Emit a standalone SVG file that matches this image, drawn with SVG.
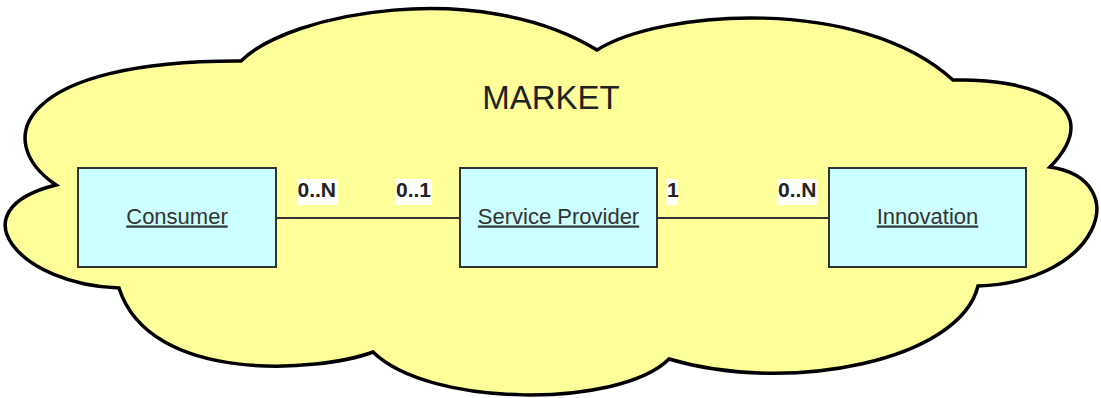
<svg xmlns="http://www.w3.org/2000/svg" width="1101" height="398" viewBox="0 0 1101 398">
  <style>
    .cloud { fill: #ffff99; stroke: #000000; stroke-width: 3.5; stroke-linejoin: miter; }
    .box { fill: #ccffff; stroke: #333333; stroke-width: 2; }
    .title { font-family: "Liberation Sans", Arial, sans-serif; font-size: 33px; fill: #222222; text-anchor: middle; }
    .name { font-family: "Liberation Sans", Arial, sans-serif; font-size: 22px; fill: #333333; text-anchor: middle; text-decoration: underline; }
    .link { stroke: #333333; stroke-width: 1.8; fill: none; }
    .mult-bg { fill: #ffffff; }
    .mult { font-family: "Liberation Sans", Arial, sans-serif; font-size: 21px; font-weight: bold; fill: #222222; }
  </style>

  <!-- Market cloud container -->
  <g id="market">
    <path class="cloud" d="M 241,61
      C 290,12 480,-22 597,50
      C 660,10 860,-5 953,80
      C 1030,78 1110,105 1050,167
      C 1135,180 1100,282 978,286
      C 960,360 790,395 669,359
      C 620,408 430,408 373,352
      C 320,372 150,385 119,288
      C 20,285 -45,210 56,185
      C -10,140 20,60 241,61 Z"/>
    <text class="title" x="551" y="108.5">MARKET</text>
  </g>

  <!-- Associations with multiplicities -->
  <g id="connectors">
    <line class="link" x1="276" y1="218" x2="460" y2="218"/>
    <line class="link" x1="657" y1="218" x2="829" y2="218"/>
    <rect class="mult-bg" x="297" y="179" width="41" height="26"/>
    <text class="mult" x="297.5" y="197">0..N</text>
    <rect class="mult-bg" x="395.5" y="179" width="36.5" height="26"/>
    <text class="mult" x="396" y="197">0..1</text>
    <rect class="mult-bg" x="666.5" y="179" width="11" height="26"/>
    <text class="mult" x="667" y="197">1</text>
    <rect class="mult-bg" x="777.5" y="179" width="39.5" height="26"/>
    <text class="mult" x="778" y="197">0..N</text>
  </g>

  <g id="consumer">
    <rect class="box" x="78" y="168" width="198" height="99"/>
    <text class="name" x="177" y="223.5">Consumer</text>
  </g>

  <g id="service-provider">
    <rect class="box" x="460" y="168" width="197" height="99"/>
    <text class="name" x="558.5" y="223.5">Service Provider</text>
  </g>

  <g id="innovation">
    <rect class="box" x="829" y="168" width="197" height="99"/>
    <text class="name" x="927.5" y="223.5">Innovation</text>
  </g>
</svg>
